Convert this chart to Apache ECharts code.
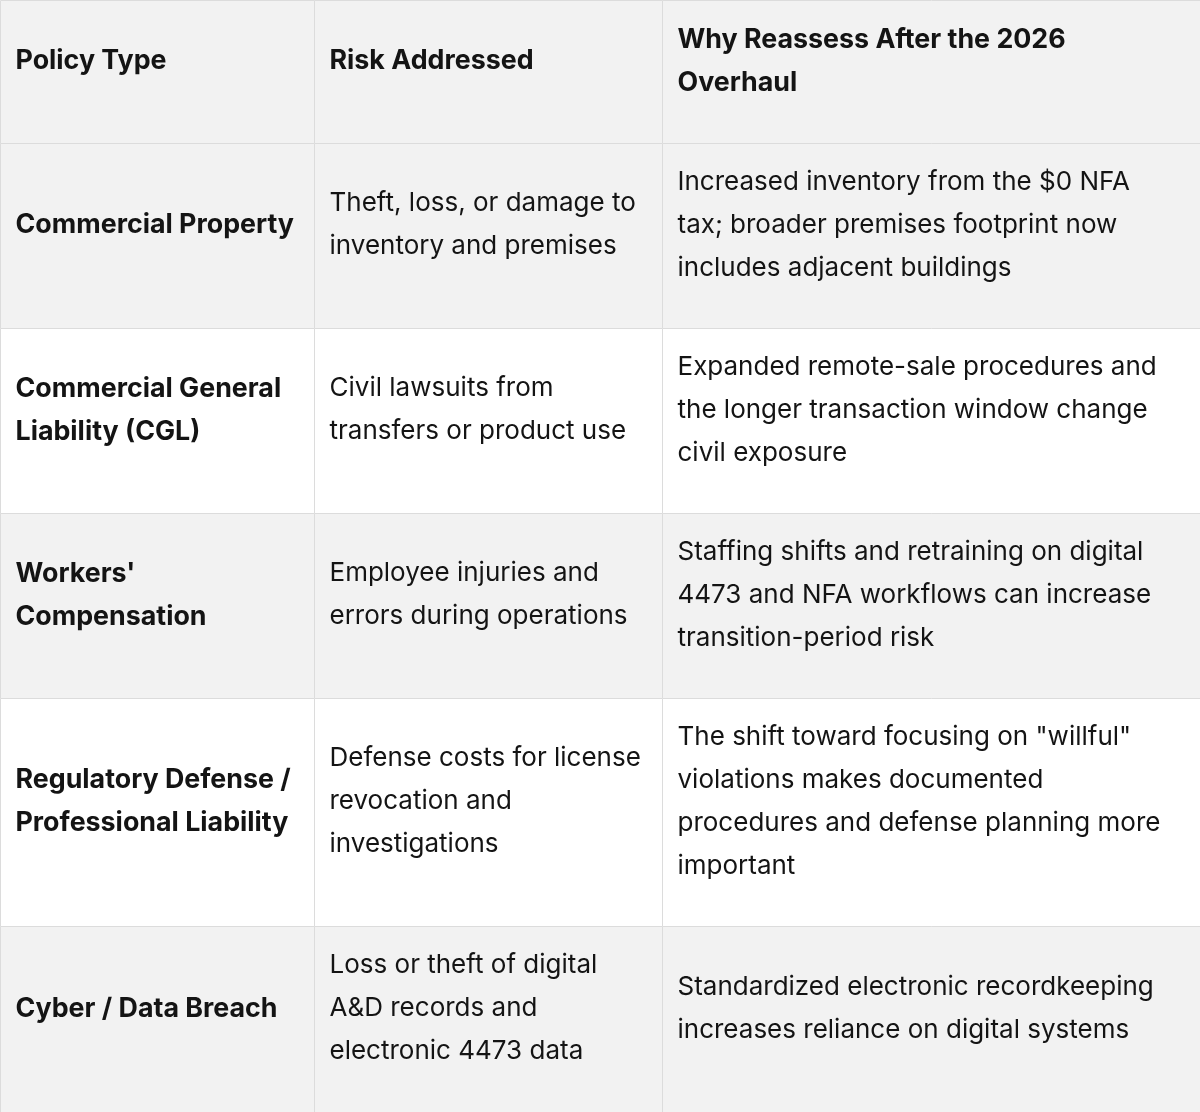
<!DOCTYPE html>
<html>
<head>
<meta charset="utf-8">
<title>Policy reassessment table</title>
<script src="https://cdn.jsdelivr.net/npm/echarts@6/dist/echarts.min.js"></script>
<style>
  html, body { margin: 0; padding: 0; background: #fff; }
  #main { width: 1200px; height: 1112px; }
</style>
</head>
<body>
<div id="main"></div>
<script>
  // table content, line breaks follow the reference wrapping
  var headers = ['Policy Type', 'Risk Addressed', 'Why Reassess After the 2026\nOverhaul'];
  var policyTypes = [
    'Commercial Property',
    'Commercial General\nLiability (CGL)',
    "Workers'\nCompensation",
    'Regulatory Defense /\nProfessional Liability',
    'Cyber / Data Breach'
  ];
  var risksAddressed = [
    'Theft, loss, or damage to\ninventory and premises',
    'Civil lawsuits from\ntransfers or product use',
    'Employee injuries and\nerrors during operations',
    'Defense costs for license\nrevocation and\ninvestigations',
    'Loss or theft of digital\nA&D records and\nelectronic 4473 data'
  ];
  var reassessReasons = [
    'Increased inventory from the $0 NFA\ntax; broader premises footprint now\nincludes adjacent buildings',
    'Expanded remote-sale procedures and\nthe longer transaction window change\ncivil exposure',
    'Staffing shifts and retraining on digital\n4473 and NFA workflows can increase\ntransition-period risk',
    'The shift toward focusing on "willful"\nviolations makes documented\nprocedures and defense planning more\nimportant',
    'Standardized electronic recordkeeping\nincreases reliance on digital systems'
  ];

  // layout (axis units = pixels)
  var colEdges = [0, 314, 662, 1200];
  var rowEdges = [0, 143, 328, 513, 698, 926, 1112];

  var rows = [headers];
  for (var i = 0; i < policyTypes.length; i++) {
    rows.push([policyTypes[i], risksAddressed[i], reassessReasons[i]]);
  }

  var cells = [];
  rows.forEach(function (r, ri) {
    r.forEach(function (txt, ci) {
      cells.push({ value: [ci, ri], text: txt });
    });
  });

  function renderCell(params, api) {
    var c = api.value(0);
    var r = api.value(1);
    var p0 = api.coord([colEdges[c], rowEdges[r]]);
    var p1 = api.coord([colEdges[c + 1], rowEdges[r + 1]]);
    var x = Math.round(p0[0]) + 0.5;
    var y = Math.round(p0[1]) + 0.5;
    var w = Math.round(p1[0] - p0[0]);
    var h = Math.round(p1[1] - p0[1]);
    var bold = r === 0 || c === 0;
    // header + odd body rows are grey
    var bg = (r === 0 || r % 2 === 1) ? '#f2f2f2' : '#ffffff';
    return {
      type: 'group',
      children: [{
        type: 'rect',
        shape: { x: x, y: y, width: w, height: h },
        style: { fill: bg, stroke: '#dcdcdc', lineWidth: 1 }
      }, {
        type: 'text',
        style: {
          text: cells[params.dataIndex].text,
          x: x + 15,
          y: y + h / 2 - 11,
          verticalAlign: 'middle',
          align: 'left',
          fontFamily: 'Inter, "Noto Sans", sans-serif',
          fontSize: bold ? 26.8 : 26,
          fontWeight: bold ? 700 : 400,
          lineHeight: 43,
          fill: '#141414'
        }
      }]
    };
  }

  var chart = echarts.init(document.getElementById('main'));
  chart.setOption({
    animation: false,
    grid: { left: 0, right: 0, top: 0, bottom: 0 },
    xAxis: { type: 'value', min: 0, max: 1200, show: false },
    yAxis: { type: 'value', min: 0, max: 1112, inverse: true, show: false },
    series: [{
      type: 'custom',
      renderItem: renderCell,
      data: cells,
      silent: true
    }]
  });
</script>
</body>
</html>
